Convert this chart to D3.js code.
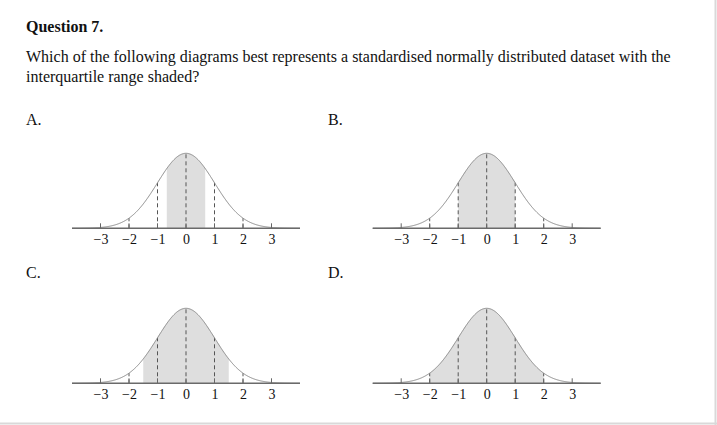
<!DOCTYPE html>
<html>
<head>
<meta charset="utf-8">
<script src="https://cdn.jsdelivr.net/npm/d3@7"></script>
<style>
  html, body { margin: 0; padding: 0; background: #fff; }
  svg { display: block; }
  text { font-family: "Liberation Serif", "Times New Roman", serif; fill: #111; }
  .tl { font-size: 14px; }
</style>
</head>
<body>
<svg id="chart" width="717" height="425"></svg>
<script>
// ---- data ----
const title = "Question 7.";
const questionLines = [
  "Which of the following diagrams best represents a standardised normally distributed dataset with the",
  "interquartile range shaded?"
];
const panelLabels = ["A.", "B.", "C.", "D."];
const shadeLow  = [-0.674, -1, -1.5, -2];
const shadeHigh = [ 0.674,  1,  1.5,  2];
const tickValues = [-3, -2, -1, 0, 1, 2, 3];
const dashedValues = [-2, -1, 0, 1, 2];
const xDomain = [-4, 4];

// ---- layout ----
const W = 717, H = 425;
const svg = d3.select("#chart");

// page border (right & bottom)
svg.append("line").attr("x1", W - 1.5).attr("x2", W - 1.5).attr("y1", 0).attr("y2", H)
  .attr("stroke", "#d9d9d9").attr("stroke-width", 2);
svg.append("line").attr("x1", 0).attr("x2", W).attr("y1", H - 1.5).attr("y2", H - 1.5)
  .attr("stroke", "#d9d9d9").attr("stroke-width", 2);

svg.append("text").attr("x", 26).attr("y", 32).style("font-size", "16px").style("font-weight", "bold").text(title);
svg.selectAll("text.q").data(questionLines).join("text").attr("class", "q")
  .attr("x", 26).attr("y", (d, i) => 62 + i * 20).style("font-size", "16px").text(d => d);

const panels = [
  { label: panelLabels[0], lx: 26,  ly: 125, cx: 186,   base: 228.3 },
  { label: panelLabels[1], lx: 328, ly: 125, cx: 486.7, base: 228.3 },
  { label: panelLabels[2], lx: 26,  ly: 278, cx: 186,   base: 383.3 },
  { label: panelLabels[3], lx: 328, ly: 278, cx: 486.7, base: 383.3 }
];
const sdPx = 28.5, peakH = 75;
const pdf = z => Math.exp(-z * z / 2) / Math.sqrt(2 * Math.PI);

panels.forEach((p, i) => {
  svg.append("text").attr("x", p.lx).attr("y", p.ly).style("font-size", "16px").text(p.label);

  const x = d3.scaleLinear().domain(xDomain).range([p.cx - 4 * sdPx, p.cx + 4 * sdPx]);
  const y = d3.scaleLinear().domain([0, pdf(0)]).range([p.base, p.base - peakH]);
  const g = svg.append("g");

  // shaded area
  const zs = d3.range(shadeLow[i], shadeHigh[i] + 1e-9, 0.02);
  if (zs[zs.length - 1] < shadeHigh[i]) zs.push(shadeHigh[i]);
  g.append("path")
    .attr("d", d3.area().x(d => x(d)).y0(p.base).y1(d => y(pdf(d)))(zs))
    .attr("fill", "#dedede");

  // dashed verticals
  g.selectAll("line.dash").data(dashedValues).join("line").attr("class", "dash")
    .attr("x1", d => x(d)).attr("x2", d => x(d))
    .attr("y1", p.base).attr("y2", d => y(pdf(d)))
    .attr("stroke", "#555").attr("stroke-width", 1).attr("stroke-dasharray", "4,3");

  // curve
  const cz = d3.range(xDomain[0], xDomain[1] + 1e-9, 0.02);
  g.append("path")
    .attr("d", d3.line().x(d => x(d)).y(d => y(pdf(d)))(cz))
    .attr("fill", "none").attr("stroke", "#8a8a8a").attr("stroke-width", 1);

  // axis
  const axis = d3.axisBottom(x).tickValues(tickValues).tickSize(0).tickPadding(0)
    .tickFormat(d => d < 0 ? "\u2212" + Math.abs(d) : String(d));
  const ag = g.append("g").attr("transform", `translate(0,${p.base})`).call(axis);
  ag.attr("font-size", null).attr("font-family", null);
  ag.select(".domain").remove();
  ag.selectAll("text").attr("class", "tl").attr("fill", "#111")
    .attr("dy", null).attr("y", 15.5);
  // small tick marks above axis
  g.selectAll("line.tk").data(tickValues).join("line").attr("class", "tk")
    .attr("x1", d => x(d)).attr("x2", d => x(d)).attr("y1", p.base).attr("y2", p.base - 5)
    .attr("stroke", "#666").attr("stroke-width", 1);
  g.append("line").attr("x1", x(xDomain[0])).attr("x2", x(xDomain[1]))
    .attr("y1", p.base).attr("y2", p.base).attr("stroke", "#6a6a6a").attr("stroke-width", 1.6);
});
</script>
</body>
</html>
